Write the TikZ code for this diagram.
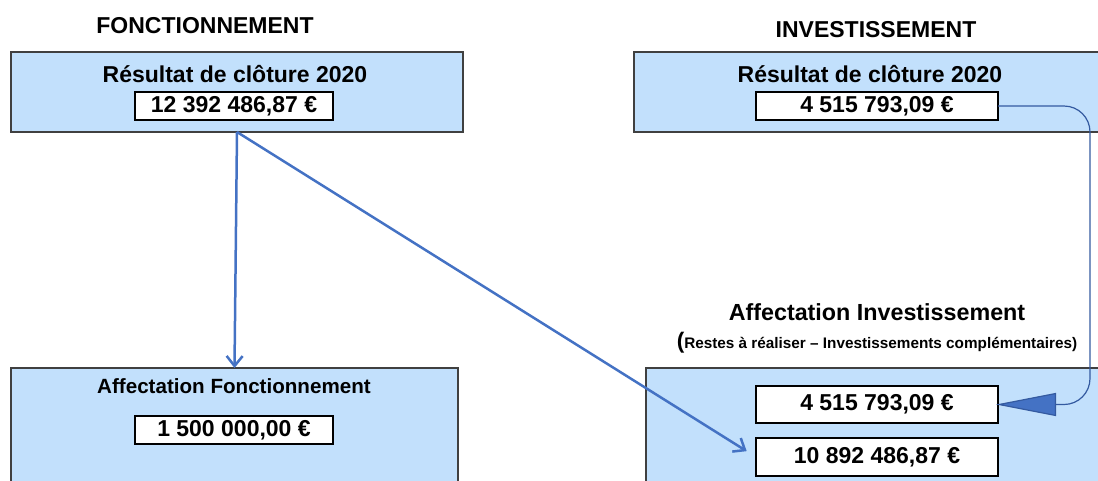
\documentclass[tikz,border=0pt]{standalone}
\usepackage{fontspec}
\setmainfont{Liberation Sans}
\usetikzlibrary{arrows.meta}

\definecolor{boxblue}{RGB}{194,224,252}
\definecolor{arrowblue}{RGB}{68,114,196}
\definecolor{linkblue}{RGB}{52,90,160}

\begin{document}
\begin{tikzpicture}[
    x=1pt, y=-1pt,
    every node/.style={font=\bfseries\fontsize{23}{27}\selectfont, inner sep=0pt, outer sep=0pt},
    panel/.style={draw=black!75, fill=boxblue, line width=1.2pt, anchor=north west},
    amount/.style={draw=black, fill=white, line width=1.2pt, minimum width=198pt, minimum height=28pt},
    title/.style={anchor=base},
    small/.style={anchor=base, font=\bfseries\fontsize{15.3}{18}\selectfont},
    flow/.style={draw=arrowblue, line width=2.5pt, -{Straight Barb[length=10pt,width=16pt]}},
]
  \clip (0,0) rectangle (1098,480);

  % panels
  \node [panel, minimum width=452pt, minimum height=80pt]  (fres) at (11,52)   {};
  \node [panel, minimum width=480pt, minimum height=80pt]  (ires) at (634,52)  {};
  \node [panel, minimum width=447pt, minimum height=130pt] (faff) at (11,368)  {};
  \node [panel, minimum width=470pt, minimum height=130pt] (iaff) at (646,368) {};

  % headings
  \node [title]  (fonc)  at (205,33)  {FONCTIONNEMENT};
  \node [title]  (inv)   at (876,37)  {INVESTISSEMENT};
  \node [title]  (fresT) at (235,82)  {Résultat de clôture 2020};
  \node [title]  (iresT) at (870,82)  {Résultat de clôture 2020};
  \node [title, font=\bfseries\fontsize{20.6}{25}\selectfont]
                 (faffT) at (234,393) {Affectation Fonctionnement};
  \node [title, font=\bfseries\fontsize{23.3}{28}\selectfont]
                 (iaffT) at (877,320) {Affectation Investissement};
  \node [small]  (iaffS) at (877,348) {{\fontsize{22.5}{27}\selectfont(}Restes à réaliser – Investissements complémentaires)};

  % amounts
  \node [amount]                        (vfres)  at (234,106)   {12 392 486,87 €};
  \node [amount, minimum width=242pt]   (vires)  at (877,106)   {4 515 793,09 €};
  \node [amount]                        (vfaff)  at (234,430)   {1 500 000,00 €};
  \node [amount, minimum width=242pt,
         minimum height=37pt]           (viaffA) at (877,404.5) {4 515 793,09 €};
  \node [amount, minimum width=242pt,
         minimum height=38pt]           (viaffB) at (877,457)   {10 892 486,87 €};

  % connectors
  \coordinate (bend) at (1090,404.5);
  \draw [flow] (fres.south) -- (faff.north);
  \draw [flow, shorten >=11pt] (fres.south) -- (viaffB.west);
  \draw [linkblue, line width=1.2pt, rounded corners=26pt,
         -{Triangle[length=60pt,width=23pt,fill=arrowblue]}, shorten >=-2pt]
        (vires.east) -| (bend) -- (viaffA.east);
\end{tikzpicture}
\end{document}
